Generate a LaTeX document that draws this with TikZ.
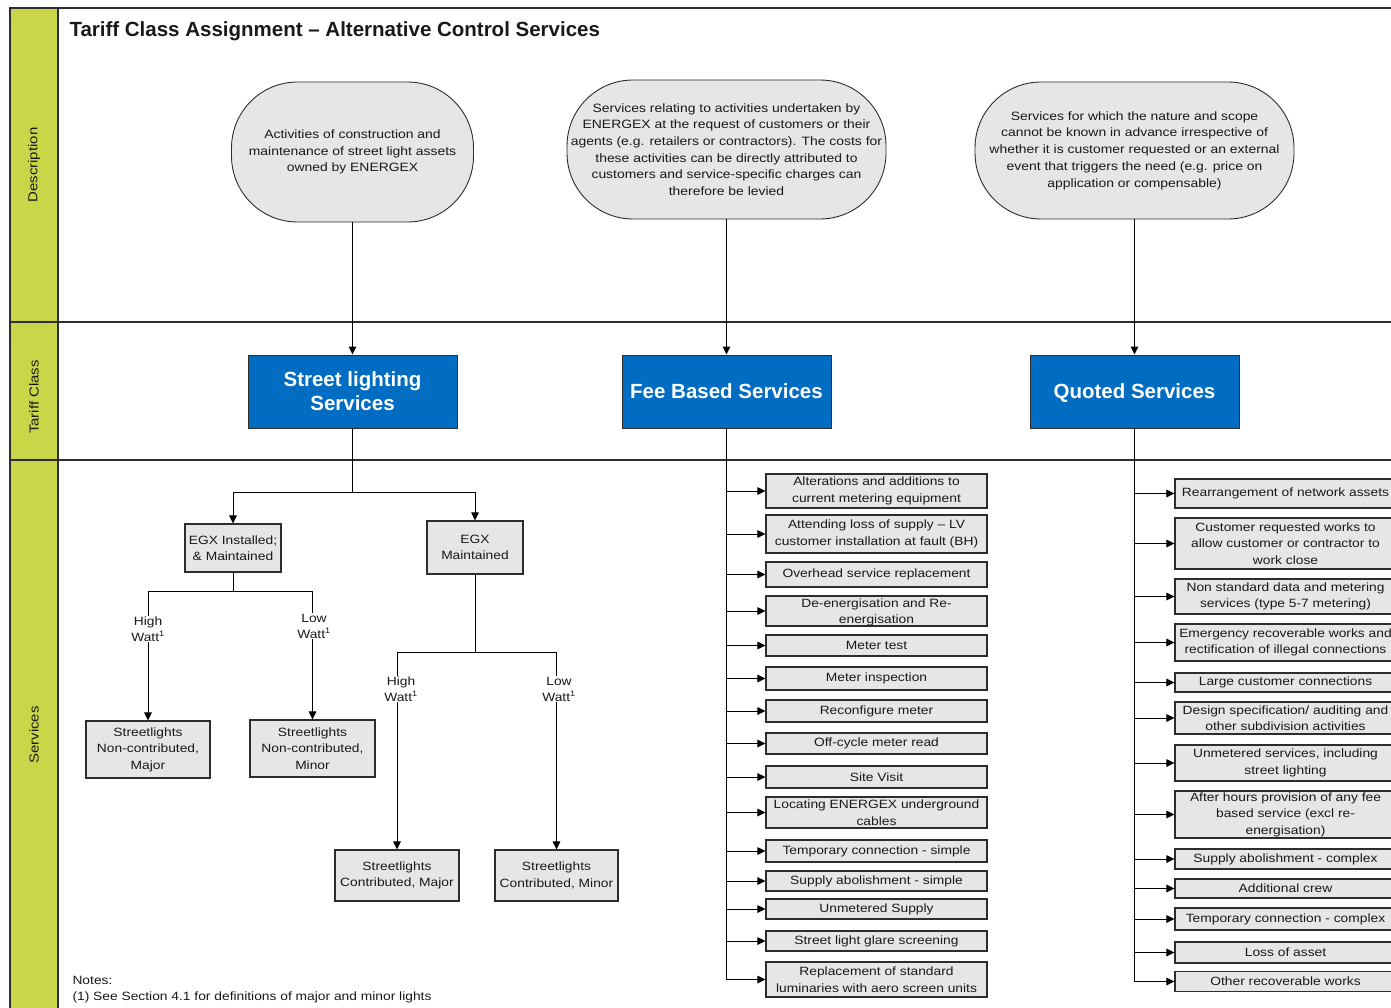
\documentclass[tikz,border=0pt]{standalone}
\usepackage{fontspec}
\setmainfont[FakeStretch=1.15]{Liberation Sans}
\newfontfamily\plainf{Liberation Sans}
\usetikzlibrary{arrows.meta}
\definecolor{band}{RGB}{200,214,72}
\definecolor{bluebox}{RGB}{0,108,194}
\definecolor{boxfill}{RGB}{230,230,230}
\definecolor{edge}{RGB}{45,45,45}
\definecolor{txt}{RGB}{25,25,25}
\begin{document}
\begin{tikzpicture}[x=1pt,y=-1pt,
  every node/.style={font=\fontsize{12}{16.5}\selectfont, text=txt},
  frame/.style={draw=edge, line width=1.3pt},
  svc/.style={draw=edge, line width=1.1pt, fill=boxfill, align=center, inner sep=0pt, minimum width=221pt},
  leaf/.style={draw=edge, line width=1.1pt, fill=boxfill, align=center, inner sep=0pt},
  desc/.style={draw=edge, line width=0.9pt, fill=boxfill, align=center, inner sep=0pt, rounded corners=66pt, font=\fontsize{12.1}{16.7}\selectfont},
  tclass/.style={draw=edge, line width=1pt, fill=bluebox, align=center, inner sep=0pt, minimum width=209pt, minimum height=73pt, text=white, font=\plainf\fontsize{20.5}{24}\selectfont\bfseries},
  lbl/.style={fill=white, align=center, inner sep=1pt, font=\fontsize{12}{16}\selectfont},
  bandlbl/.style={rotate=90, font=\fontsize{13}{15}\selectfont},
  conn/.style={draw=black, line width=1pt},
  arr/.style={conn, -{Triangle[length=8pt,width=7.5pt]}}
]
\clip (0,0) rectangle (1391,1008);
\fill[white] (0,0) rectangle (1391,1008);
% frame and band
\fill[band] (10,8) rectangle (58,1008);
\draw[frame] (10,1008) -- (10,8) -- (1391,8);
\draw[frame] (58,8) -- (58,1008);
\draw[frame] (10,322) -- (1391,322);
\draw[frame] (10,460) -- (1391,460);
\node[bandlbl] (bDesc) at (34,165) {Description};
\node[bandlbl] (bTar) at (34,397) {Tariff Class};
\node[bandlbl] (bSvc) at (34,735) {Services};
% title
\node[anchor=west, font=\plainf\fontsize{20.5}{24}\selectfont\bfseries] (title) at (66,31) {Tariff Class Assignment – Alternative Control Services};

% descriptions
\node[desc, minimum width=242pt, minimum height=140pt] (d1) at (352.5,152) {Activities of construction and\\maintenance of street light assets\\owned by ENERGEX};
\node[desc, minimum width=319pt, minimum height=139pt] (d2) at (726.5,149.5) {Services relating to activities undertaken by\\ENERGEX at the request of customers or their\\agents (e.g. retailers or contractors). The costs for\\these activities can be directly attributed to\\customers and service-specific charges can\\therefore be levied};
\node[desc, minimum width=319pt, minimum height=137pt] (d3) at (1134.5,150.5) {Services for which the nature and scope\\cannot be known in advance irrespective of\\whether it is customer requested or an external\\event that triggers the need (e.g. price on\\application or compensable)};

% tariff classes
\node[tclass] (t1) at (352.5,391.5) {Street lighting\\Services};
\node[tclass] (t2) at (726.5,391.5) {Fee Based Services};
\node[tclass, text depth=0pt] (t3) at (1134.5,391.5) {Quoted Services};

\draw[arr] (d1.south) -- (t1.north);
\draw[arr] (d2.south) -- (t2.north);
\draw[arr] (d3.south) -- (t3.north);

% street lighting tree
\node[leaf, minimum width=96pt, minimum height=48pt] (e1) at (233,548) {EGX Installed;\\\& Maintained};
\node[leaf, minimum width=96pt, minimum height=53pt] (e2) at (475,547.5) {EGX\\Maintained};
\coordinate (j1) at (352.5,492);
\draw[conn] (t1.south) -- (j1);
\draw[arr] (j1) -| (e1.north);
\draw[arr] (j1) -| (e2.north);

\node[leaf, minimum width=124pt, minimum height=57pt] (s1) at (148,749.5) {Streetlights\\Non-contributed,\\Major};
\node[leaf, minimum width=125pt, minimum height=57pt] (s2) at (312.5,748.5) {Streetlights\\Non-contributed,\\Minor};
\coordinate (j2) at (233,591);
\draw[conn] (e1.south) -- (j2);
\draw[arr] (j2) -| (s1.north);
\draw[arr] (j2) -| (s2.north);
\node[lbl] (hw1) at (148,629) {High\\Watt\textsuperscript{1}};
\node[lbl] (lw1) at (314,626) {Low\\Watt\textsuperscript{1}};

\node[leaf, minimum width=124pt, minimum height=51pt] (c1) at (397,875.5) {Streetlights\\Contributed, Major};
\node[leaf, minimum width=123pt, minimum height=51pt] (c2) at (556.5,875.5) {Streetlights\\Contributed, Minor};
\coordinate (j3) at (475,652);
\draw[conn] (e2.south) -- (j3);
\draw[arr] (j3) -| (c1.north);
\draw[arr] (j3) -| (c2.north);
\node[lbl] (hw2) at (401,689) {High\\Watt\textsuperscript{1}};
\node[lbl] (lw2) at (559,689) {Low\\Watt\textsuperscript{1}};

% fee based services list
\begin{scope}[every node/.append style={svc}]
\node[minimum height=34pt] (m1) at (876.5,491) {Alterations and additions to\\current metering equipment};
\node[minimum height=38pt] (m2) at (876.5,534) {Attending loss of supply – LV\\customer installation at fault (BH)};
\node[minimum height=25pt] (m3) at (876.5,574.5) {Overhead service replacement};
\node[minimum height=30pt, text depth=0pt] (m4) at (876.5,611) {De-energisation and Re-\\energisation};
\node[minimum height=21pt] (m5) at (876.5,645.5) {Meter test};
\node[minimum height=23pt] (m6) at (876.5,678.5) {Meter inspection};
\node[minimum height=22pt] (m7) at (876.5,711) {Reconfigure meter};
\node[minimum height=21pt] (m8) at (876.5,743.5) {Off-cycle meter read};
\node[minimum height=22pt] (m9) at (876.5,777) {Site Visit};
\node[minimum height=31pt] (m10) at (876.5,812.5) {Locating ENERGEX underground\\cables};
\node[minimum height=22pt] (m11) at (876.5,851) {Temporary connection - simple};
\node[minimum height=20pt] (m12) at (876.5,881) {Supply abolishment - simple};
\node[minimum height=20pt] (m13) at (876.5,909) {Unmetered Supply};
\node[minimum height=20pt] (m14) at (876.5,941) {Street light glare screening};
\node[minimum height=35pt] (m15) at (876.5,979.5) {Replacement of standard\\luminaries with aero screen units};
\end{scope}
\coordinate (fbEnd) at (726.5,979.5);
\draw[conn] (t2.south) -- (fbEnd);
\foreach \n in {m1,m2,m3,m4,m5,m6,m7,m8,m9,m10,m11,m12,m13,m14,m15}
  \draw[arr] (t2.south |- \n.west) -- (\n.west);

% quoted services list
\begin{scope}[every node/.append style={svc}]
\node[minimum height=29pt] (q1) at (1285.5,493.5) {Rearrangement of network assets};
\node[minimum height=51pt] (q2) at (1285.5,543.5) {Customer requested works to\\allow customer or contractor to\\work close};
\node[minimum height=35pt] (q3) at (1285.5,596.5) {Non standard data and metering\\services (type 5-7 metering)};
\node[minimum height=37pt] (q4) at (1285.5,642.5) {Emergency recoverable works and\\rectification of illegal connections};
\node[minimum height=19pt] (q5) at (1285.5,682.5) {Large customer connections};
\node[minimum height=32pt] (q6) at (1285.5,718) {Design specification/ auditing and\\other subdivision activities};
\node[minimum height=36pt] (q7) at (1285.5,763) {Unmetered services, including\\street lighting};
\node[minimum height=47pt] (q8) at (1285.5,814.5) {After hours provision of any fee\\based service (excl re-\\energisation)};
\node[minimum height=20pt] (q9) at (1285.5,859) {Supply abolishment - complex};
\node[minimum height=19pt] (q10) at (1285.5,888.5) {Additional crew};
\node[minimum height=22pt] (q11) at (1285.5,919) {Temporary connection - complex};
\node[minimum height=21pt] (q12) at (1285.5,952.5) {Loss of asset};
\node[minimum height=20pt] (q13) at (1285.5,981.5) {Other recoverable works};
\end{scope}
\coordinate (qsEnd) at (1134.5,981.5);
\draw[conn] (t3.south) -- (qsEnd);
\foreach \n in {q1,q2,q3,q4,q5,q6,q7,q8,q9,q10,q11,q12,q13}
  \draw[arr] (t3.south |- \n.west) -- (\n.west);

% notes
\node[anchor=west, font=\fontsize{12}{15}\selectfont] (n1) at (69,980) {Notes:};
\node[anchor=west, font=\fontsize{12}{15}\selectfont] (n2) at (69,997) {(1) See Section 4.1 for definitions of major and minor lights};
\end{tikzpicture}
\end{document}
